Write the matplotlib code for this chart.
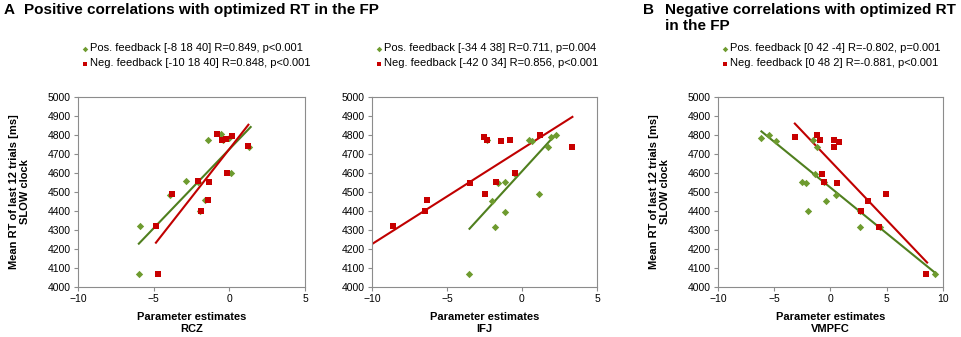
import numpy as np
import matplotlib
matplotlib.use("Agg")
import matplotlib.pyplot as plt

plt.rcParams['font.family'] = ['Liberation Sans', 'DejaVu Sans']

# ---------------- data ----------------
# Panel A1: RCZ
rcz_pos_x = [-5.91, -5.96, -2.87, -3.93, -1.43, -0.53, -0.44, -0.04, 0.09, 1.32, -1.61, -1.94, -2.05]
rcz_pos_y = [4321, 4068, 4556, 4486, 4775, 4803, 4772, 4786, 4598, 4737, 4458, 4400, 4553]
rcz_neg_x = [-4.85, -4.72, -3.77, -2.05, -1.37, -1.43, -1.85, -0.82, -0.46, -0.24, 0.20, -0.13, 1.26]
rcz_neg_y = [4321, 4068, 4488, 4556, 4551, 4458, 4400, 4803, 4772, 4779, 4793, 4598, 4740]

# Panel A2: IFJ
ifj_pos_x = [-3.50, -1.82, -1.97, -1.15, -1.11, -1.62, -2.35, 0.49, 0.69, 1.13, 1.73, 1.91, 2.24, -0.47]
ifj_pos_y = [4070, 4316, 4453, 4395, 4554, 4549, 4775, 4775, 4767, 4490, 4737, 4789, 4802, 4596]
ifj_neg_x = [-8.60, -6.34, -6.49, -3.46, -2.50, -2.30, -2.48, -1.73, -1.40, -0.78, -0.47, 1.22, 3.32]
ifj_neg_y = [4319, 4456, 4398, 4549, 4789, 4772, 4488, 4554, 4767, 4775, 4598, 4798, 4737]

# Panel B: VMPFC
vm_pos_x = [-6.14, -5.51, -4.82, -1.59, -1.17, -1.35, -2.54, -2.19, -1.98, -0.57, -0.42, 0.45, 2.63, 2.63, 4.37, 9.25]
vm_pos_y = [4786, 4800, 4770, 4772, 4735, 4596, 4551, 4546, 4400, 4551, 4454, 4486, 4398, 4316, 4316, 4068]
vm_neg_x = [-3.17, -1.17, -0.93, -0.75, -0.57, 0.27, 0.33, 0.78, 0.54, 3.35, 2.69, 4.97, 4.34, 8.50]
vm_neg_y = [4788, 4798, 4774, 4596, 4551, 4772, 4737, 4765, 4549, 4454, 4400, 4488, 4316, 4068]

# Trendlines: start x, end x, slope, intercept
pos_trend_x0 = [-5.98, -3.50, -6.14]
pos_trend_x1 = [1.41, 2.08, 9.31]
pos_trend_slope = [83.1, 86.4, -48.2]
pos_trend_icpt = [4725, 4609, 4523]
neg_trend_x0 = [-4.85, -10.5, -3.17]
neg_trend_x1 = [1.26, 3.36, 8.59]
neg_trend_slope = [101.6, 50.1, -62.2]
neg_trend_icpt = [4726, 4727, 4663]

pos_labels = ["Pos. feedback [-8 18 40] R=0.849, p<0.001",
              "Pos. feedback [-34 4 38] R=0.711, p=0.004",
              "Pos. feedback [0 42 -4] R=-0.802, p=0.001"]
neg_labels = ["Neg. feedback [-10 18 40] R=0.848, p<0.001",
              "Neg. feedback [-42 0 34] R=0.856, p<0.001",
              "Neg. feedback [0 48 2] R=-0.881, p<0.001"]
regions = ["RCZ", "IFJ", "VMPFC"]
xlims = [(-10, 5), (-10, 5), (-10, 10)]
xticks = [[-10, -5, 0, 5], [-10, -5, 0, 5], [-10, -5, 0, 5, 10]]
yticks = list(range(4000, 5001, 100))

panels = [
    (rcz_pos_x, rcz_pos_y, rcz_neg_x, rcz_neg_y),
    (ifj_pos_x, ifj_pos_y, ifj_neg_x, ifj_neg_y),
    (vm_pos_x, vm_pos_y, vm_neg_x, vm_neg_y),
]

GREEN_M = '#6E9B2F'
GREEN_L = '#4F7F1E'
RED_M = '#C80000'
RED_L = '#C00000'
GRAY = '#8C8C8C'

W, H = 962, 337
fig = plt.figure(figsize=(W / 100, H / 100), dpi=100)

ax_px = [(78, 97, 305, 287), (372, 97, 597, 287), (718, 97, 943, 287)]

def trend(ax, x0, x1, m, b, color):
    xs = np.array([x0, x1], float)
    ax.plot(xs, m * xs + b, color=color, lw=1.5, zorder=2, clip_on=True)

for i, (px, py, nx, ny) in enumerate(panels):
    l, t, r, bt = ax_px[i]
    ax = fig.add_axes([l / W, 1 - bt / H, (r - l) / W, (bt - t) / H])
    ax.scatter(px, py, marker='D', s=14, color=GREEN_M, zorder=3, linewidths=0,
               label=pos_labels[i])
    ax.scatter(nx, ny, marker='s', s=21, color=RED_M, zorder=4, linewidths=0,
               label=neg_labels[i])
    trend(ax, pos_trend_x0[i], pos_trend_x1[i], pos_trend_slope[i], pos_trend_icpt[i], GREEN_L)
    trend(ax, neg_trend_x0[i], neg_trend_x1[i], neg_trend_slope[i], neg_trend_icpt[i], RED_L)
    ax.set_xlim(*xlims[i])
    ax.set_ylim(4000, 5000)
    ax.set_xticks(xticks[i])
    ax.set_yticks(yticks)
    ax.tick_params(direction='out', length=3, width=0.8, color=GRAY, labelsize=7.5,
                   pad=2)
    for s in ax.spines.values():
        s.set_color(GRAY)
        s.set_linewidth(0.8)
    ax.set_xlabel("Parameter estimates\n" + regions[i], fontsize=8, fontweight='bold',
                  labelpad=6, linespacing=1.2)
    if i != 1:
        ax.set_ylabel("Mean RT of last 12 trials [ms]\nSLOW clock", fontsize=8,
                      fontweight='bold', labelpad=13, linespacing=1.15)
    ax.legend(loc='lower left', bbox_to_anchor=(0.01, 1.15), frameon=False,
              fontsize=8, handletextpad=0.1, handlelength=0.8, borderpad=0,
              borderaxespad=0, labelspacing=0.45, markerscale=0.75)

fig.text(4 / W, 1 - 3 / H, "A", fontsize=11, fontweight='bold', va='top', ha='left')
fig.text(24 / W, 1 - 3 / H, "Positive correlations with optimized RT in the FP",
         fontsize=11, fontweight='bold', va='top', ha='left')
fig.text(643 / W, 1 - 3 / H, "B", fontsize=11, fontweight='bold', va='top', ha='left')
fig.text(665 / W, 1 - 3 / H, "Negative correlations with optimized RT\nin the FP",
         fontsize=11, fontweight='bold', va='top', ha='left', linespacing=1.2)

fig.savefig("out.png", dpi=100, facecolor='white')
